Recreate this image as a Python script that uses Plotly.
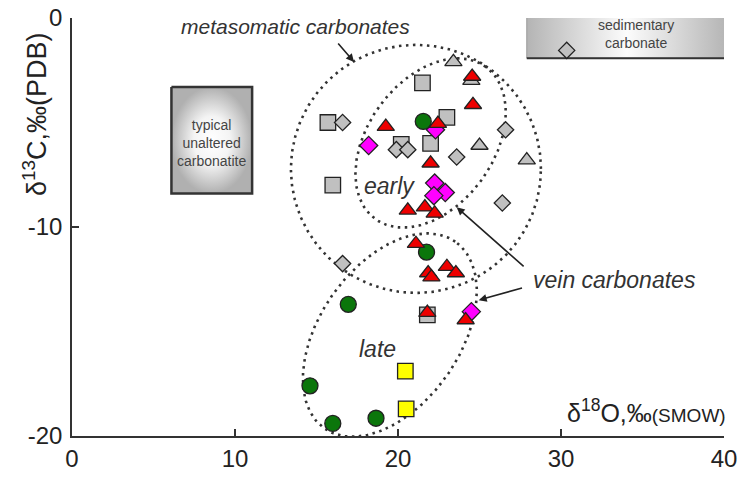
import numpy as np
import plotly.graph_objects as go

# ---- data (δ18O SMOW, δ13C PDB) ----
gray_sq_x = [21.5, 15.7, 23.0, 20.2, 22.0, 16.0, 21.8]
gray_sq_y = [-3.1, -5.0, -4.75, -6.05, -6.0, -8.0, -14.2]
gray_di_x = [16.6, 26.6, 19.9, 20.6, 23.6, 26.4, 16.6, 30.35]
gray_di_y = [-5.0, -5.35, -6.3, -6.3, -6.65, -8.85, -11.75, -1.55]
gray_tr_x = [23.4, 24.5, 25.0, 27.9]
gray_tr_y = [-2.1, -3.0, -6.1, -6.8]
green_x = [21.55, 21.75, 16.95, 14.6, 16.0, 18.65]
green_y = [-4.95, -11.2, -13.7, -17.6, -19.4, -19.15]
magenta_x = [22.3, 18.2, 22.25, 22.9, 22.2, 24.5]
magenta_y = [-5.35, -6.1, -7.9, -8.35, -8.5, -14.05]
red_x = [24.55, 24.6, 19.25, 22.45, 22.0, 20.6, 21.65, 22.25, 21.1, 21.85, 22.05, 23.0, 23.55, 21.8, 24.15]
red_y = [-2.8, -4.15, -5.2, -5.05, -6.95, -9.2, -9.05, -9.35, -10.8, -12.2, -12.4, -11.9, -12.2, -14.1, -14.45]
yellow_x = [20.45, 20.5]
yellow_y = [-16.9, -18.7]

x_ticks = [0, 10, 20, 30, 40]
x_ticktext = ["0", "10", "20", "30", "40"]
y_ticks = [-20, -10, 0]
y_ticktext = ["-20", "-10", "0"]

# ---- layout geometry ----
W, H = 741, 477
ML, MR, MT, MB = 72, 17, 18, 41
PW, PH = W - ML - MR, H - MT - MB
SX = PW / 40.0   # px per x unit
SY = PH / 20.0   # px per y unit

def ellipse(cx, cy, a_px, b_px, ang_deg, n=240):
    t = np.linspace(0, 2 * np.pi, n)
    th = np.radians(ang_deg)
    dx = a_px * np.cos(t) * np.cos(th) - b_px * np.sin(t) * np.sin(th)
    dy = a_px * np.cos(t) * np.sin(th) + b_px * np.sin(t) * np.cos(th)
    return cx + dx / SX, cy + dy / SY

ell_specs = [
    (21.1, -7.22, 125, 124, 0),    # metasomatic
    (22.0, -5.98, 94, 63, 54),     # early
    (19.5, -15.17, 114, 70, 55),   # late
]

fig = go.Figure()

# boxes with gradient
fig.add_trace(go.Scatter(x=[27.9, 40.2, 40.2, 27.9, 27.9], y=[0.4, 0.4, -1.92, -1.92, 0.4],
                         mode="lines", fill="toself", line=dict(width=1, color="#9a9a9a"),
                         fillgradient=dict(type="horizontal",
                                           colorscale=[[0, "#b4b4b4"], [0.5, "#fcfcfc"], [1, "#b4b4b4"]]),
                         hoverinfo="skip", showlegend=False))
fig.add_trace(go.Scatter(x=[27.9, 40.2], y=[-1.92, -1.92], mode="lines",
                         line=dict(width=2, color="#333"), hoverinfo="skip", showlegend=False))
fig.add_trace(go.Scatter(x=[6.1, 11.05, 11.05, 6.1, 6.1], y=[-3.3, -3.3, -8.4, -8.4, -3.3],
                         mode="lines", fill="toself", line=dict(width=2.5, color="#333"),
                         fillgradient=dict(type="radial",
                                           colorscale=[[0, "#ffffff"], [0.45, "#f4f4f4"], [1, "#b0b0b0"]]),
                         hoverinfo="skip", showlegend=False))

# dotted ellipses
for spec in ell_specs:
    ex, ey = ellipse(*spec)
    fig.add_trace(go.Scatter(x=ex, y=ey, mode="lines",
                             line=dict(width=2.6, color="#333", dash="2.5px,4.5px"),
                             hoverinfo="skip", showlegend=False))

edge = dict(color="#222", width=1.3)
def pts(x, y, sym, size, color):
    fig.add_trace(go.Scatter(x=x, y=y, mode="markers", showlegend=False,
                             marker=dict(symbol=sym, size=size, color=color, line=edge)))

pts(gray_tr_x, gray_tr_y, "triangle-up", 15, "#c0c0c0")
pts(gray_sq_x, gray_sq_y, "square", 15.5, "#c0c0c0")
pts(gray_di_x, gray_di_y, "diamond", 12.5, "#c0c0c0")
pts(green_x, green_y, "circle", 16, "#0b760b")
pts(magenta_x, magenta_y, "diamond", 14, "#ff00ff")
pts(red_x, red_y, "triangle-up", 15, "#ee0000")
pts(yellow_x, yellow_y, "square", 15.5, "#ffff00")

FONT = "Liberation Sans, Arial"
ital = dict(family=FONT, size=21, color="#333")
ital2 = dict(family=FONT, size=23, color="#333")
ann = [
    dict(x=13.74, y=-0.43, text="<i>metasomatic carbonates</i>", showarrow=False, font=ital),
    dict(x=19.45, y=-8.06, text="<i>early</i>", showarrow=False, font=ital2),
    dict(x=18.75, y=-15.85, text="<i>late</i>", showarrow=False, font=ital2),
    dict(x=33.3, y=-12.55, text="<i>vein carbonates</i>", showarrow=False, font=ital2),
    dict(x=34.6, y=-0.77, text="sedimentary<br>carbonate", showarrow=False,
         font=dict(family=FONT, size=14, color="#444")),
    dict(x=8.56, y=-5.96, text="typical<br>unaltered<br>carbonatite", showarrow=False,
         font=dict(family=FONT, size=14, color="#444")),
    # arrows
    dict(x=17.3, y=-2.1, ax=16.25, ay=-1.15, axref="x", ayref="y", text="", showarrow=True,
         arrowhead=2, arrowsize=1, arrowwidth=1.6, arrowcolor="#222", standoff=0),
    dict(x=23.6, y=-9.05, ax=27.8, ay=-11.95, axref="x", ayref="y", text="", showarrow=True,
         arrowhead=2, arrowsize=1, arrowwidth=1.6, arrowcolor="#222", standoff=0),
    dict(x=24.95, y=-13.5, ax=27.7, ay=-12.9, axref="x", ayref="y", text="", showarrow=True,
         arrowhead=2, arrowsize=1, arrowwidth=1.6, arrowcolor="#222", standoff=0),
    # axis titles
    dict(x=-0.057, y=0.77, xref="paper", yref="paper", xanchor="center", yanchor="middle",
         textangle=-90, showarrow=False,
         text="δ<sup>13</sup>C,‰(PDB)", font=dict(family=FONT, size=27, color="#222")),
    dict(x=1.006, y=0.06, xref="paper", yref="paper", xanchor="right", yanchor="middle",
         showarrow=False,
         text="δ<sup>18</sup>O,‰<span style='font-size:19px'>(SMOW)</span>",
         font=dict(family=FONT, size=25, color="#222")),
]

axis_common = dict(showgrid=False, zeroline=False, showline=True, linecolor="#333", linewidth=1.5,
                   ticks="inside", ticklen=7, tickwidth=1.5, tickcolor="#333", automargin=False,
                   tickfont=dict(family=FONT, size=24, color="#222"))
fig.update_layout(
    template="none",
    width=W, height=H, margin=dict(l=ML, r=MR, t=MT, b=MB, autoexpand=False),
    plot_bgcolor="white", paper_bgcolor="white", showlegend=False,
    xaxis=dict(range=[0, 40], tickvals=x_ticks, ticktext=x_ticktext, **axis_common),
    yaxis=dict(range=[-20, 0], tickvals=y_ticks, ticktext=y_ticktext, ticklabelstandoff=3,
               **axis_common),
    annotations=ann,
)
fig.write_html("out.html", config={"displayModeBar": False},
               post_script="document.body.style.margin='0';document.body.style.padding='0';")
